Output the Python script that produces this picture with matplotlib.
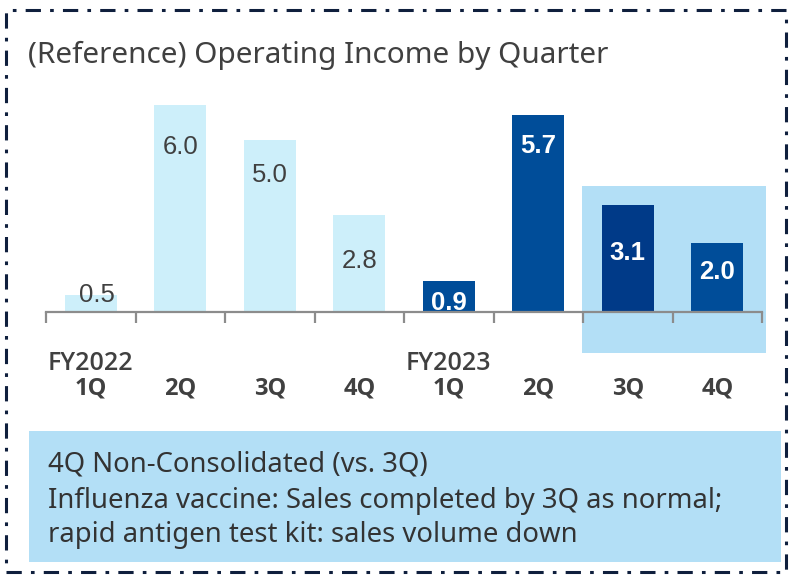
import matplotlib
matplotlib.use("Agg")
import matplotlib.pyplot as plt
from matplotlib.patches import Rectangle

# ---- data ----
quarters = ["1Q", "2Q", "3Q", "4Q", "1Q", "2Q", "3Q", "4Q"]
fiscal_years = ["FY2022", "", "", "", "FY2023", "", "", ""]
values = [0.5, 6.0, 5.0, 2.8, 0.9, 5.7, 3.1, 2.0]
value_labels = ["0.5", "6.0", "5.0", "2.8", "0.9", "5.7", "3.1", "2.0"]
title = "(Reference) Operating Income by Quarter"
note_lines = ["4Q Non-Consolidated (vs. 3Q)",
              "Influenza vaccine: Sales completed by 3Q as normal;",
              "rapid antigen test kit: sales volume down"]

# ---- styles ----
bar_colors = ["#cdeffa"] * 4 + ["#004d99", "#004d99", "#003a88", "#004d99"]
label_colors = ["#404040"] * 4 + ["white"] * 4
label_weights = ["normal"] * 4 + ["bold"] * 4
label_baseline_px = [7, 49, 43, 53, 29, 38, 55, 36]   # label baseline below bar top
label_dx_px = [6, 0, 0, 0, 0, 0, 0, 0]
PX_PER_UNIT = 34.5
PX_PER_CAT = 89.5

W, H = 794, 577
fig = plt.figure(figsize=(W / 100, H / 100), dpi=100)

def fx(px): return px / W
def fy(py): return 1 - py / H

# dash-dot border
fig.patches.append(Rectangle((fx(6), fy(572)), fx(780), 562 / H, transform=fig.transFigure,
                             fill=False, edgecolor="#0f1f3d", linewidth=2.2,
                             linestyle=(0, (5, 3, 1.2, 3))))

# title
fig.text(fx(28), fy(63), title, fontsize=21.4, color="#404040", va="baseline", ha="left",
         family="Noto Sans")

# axes
ax_bottom, ax_top = 312, 312 - 7 * PX_PER_UNIT
ax = fig.add_axes([fx(46), fy(ax_bottom), fx(762) - fx(46), (ax_bottom - ax_top) / H])
ax.patch.set_alpha(0)
ax.set_xlim(-0.5, 7.5)
ax.set_ylim(0, 7)

# highlight box behind FY2023 3Q-4Q
y_top = (ax_bottom - 186) / PX_PER_UNIT
y_bot = (ax_bottom - 353) / PX_PER_UNIT
x0 = 5.5 - 1 / PX_PER_CAT
x1 = 7.5 + 4 / PX_PER_CAT
ax.add_patch(Rectangle((x0, y_bot), x1 - x0, y_top - y_bot, facecolor="#b3dff6",
                       edgecolor="none", clip_on=False, zorder=0.5))

x = list(range(len(values)))
ax.bar(x, values, width=0.58, color=bar_colors, zorder=2)

for i, v in enumerate(values):
    ly = v - label_baseline_px[i] / PX_PER_UNIT
    ax.text(i + label_dx_px[i] / PX_PER_CAT, ly, value_labels[i], ha="center",
            va="baseline", fontsize=18.5, color=label_colors[i],
            fontweight=label_weights[i], family="Liberation Sans", zorder=3)

for s in ["top", "right", "left"]:
    ax.spines[s].set_visible(False)
ax.spines["bottom"].set_color("#8c8c8c")
ax.spines["bottom"].set_linewidth(1.6)
ax.set_yticks([])
ax.set_xticks([])
ax.set_xticks([i - 0.5 for i in range(len(values) + 1)], minor=True)
ax.tick_params(axis="x", which="minor", length=8, width=1.6, color="#8c8c8c",
               direction="out", labelbottom=False)

for i, (fyr, q) in enumerate(zip(fiscal_years, quarters)):
    ax.text(i, (ax_bottom - 395) / PX_PER_UNIT, q, ha="center", va="baseline",
            fontsize=17, fontweight="bold", color="#404040", family="Open Sans")
    if fyr:
        ax.text(i, (ax_bottom - 370) / PX_PER_UNIT, fyr, ha="center", va="baseline",
                fontsize=18, fontweight="semibold", color="#404040", family="Open Sans")

# note box
fig.patches.append(Rectangle((fx(29), fy(562)), fx(752), 131 / H, transform=fig.transFigure,
                             facecolor="#b3dff6", edgecolor="none"))
for k, base in enumerate([472, 508, 542]):
    fig.text(fx(48), fy(base), note_lines[k], fontsize=19.8, color="#333333",
             va="baseline", ha="left", family="Noto Sans")

fig.savefig("out.png", dpi=100)
